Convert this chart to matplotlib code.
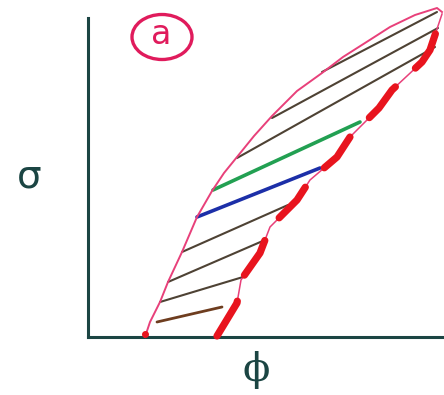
import numpy as np
import matplotlib
matplotlib.use("Agg")
import matplotlib.pyplot as plt
from matplotlib.patches import Ellipse

# sketch of the (phi, sigma) region: one unit = one pixel from the axis corner
left_phi = [57, 62, 72, 80, 94, 109, 124, 136, 149, 166, 184, 209, 234, 255, 277, 302, 327, 349, 354]
left_sig = [0, 15, 35, 55, 85, 120, 146, 164, 180, 201, 221, 246, 264, 280, 294, 310, 322, 329, 325]

right_phi = [129, 149, 153, 172, 182, 209, 222, 249, 262, 291, 304, 334, 342, 354]
right_sig = [1, 34, 57, 84, 110, 137, 157, 180, 200, 229, 247, 275, 287, 323]

# hatching strokes between the two curves: (phi0, sig0, phi1, sig1)
hatch = [
    (72, 35, 155, 60),
    (80, 55, 177, 97),
    (94, 85, 200, 132),
    (149, 179, 347, 290),
    (184, 219, 350, 309),
    (234, 265, 349, 325),
]
first_stroke = (69, 15, 134, 30)
blue_stroke = (109, 120, 232, 169)
green_stroke = (125, 147, 272, 215)

axis_col = "#1b4543"
pink = "#e8407a"
red = "#e8141e"
ink = "#4e4234"

fig = plt.figure(figsize=(4.44, 3.95), dpi=100)
ax = fig.add_axes([88 / 444, 58 / 395, 356 / 444, 337 / 395])
ax.set_xlim(0, 356)
ax.set_ylim(0, 337)
ax.patch.set_alpha(0)

for s in ["top", "right"]:
    ax.spines[s].set_visible(False)
for s in ["left", "bottom"]:
    ax.spines[s].set_color(axis_col)
    ax.spines[s].set_linewidth(2.2)
ax.spines["left"].set_bounds(0, 319)
ax.set_xticks([])
ax.set_yticks([])

# hatching
for p0, s0, p1, s1 in hatch:
    ax.plot([p0, p1], [s0, s1], color=ink, lw=1.5, solid_capstyle="round", zorder=2)
p0, s0, p1, s1 = first_stroke
ax.plot([p0, p1], [s0, s1], color="#6e3d1f", lw=2.0, solid_capstyle="round", zorder=2)
p0, s0, p1, s1 = blue_stroke
ax.plot([p0, p1], [s0, s1], color="#1c2fa8", lw=2.6, solid_capstyle="round", zorder=3)
p0, s0, p1, s1 = green_stroke
ax.plot([p0, p1], [s0, s1], color="#22a052", lw=2.6, solid_capstyle="round", zorder=3)

# boundaries
ax.plot(left_phi, left_sig, color=pink, lw=1.4, clip_on=False, zorder=4)
ax.plot(right_phi, right_sig, color=pink, lw=1.1, clip_on=False, zorder=4)
ax.plot(right_phi, right_sig, color=red, lw=5.2, dashes=(5.6, 3.8),
        dash_capstyle="round", clip_on=False, zorder=5)
ax.plot(left_phi[0], 3, "o", color=red, ms=4, clip_on=False, zorder=5)

# circled panel tag
ax.add_patch(Ellipse((74, 300), 60, 45, fill=False, ec="#e01b5c", lw=2.4, clip_on=False))
ax.text(73, 303, "a", color="#e01b5c", fontsize=24, ha="center", va="center")

ax.set_xlabel("ϕ", fontsize=29, color=axis_col, family=["DejaVu Serif"])
ax.xaxis.set_label_coords(168 / 356, -33 / 337)
ax.xaxis.label.set_va("center")
ax.set_ylabel("σ", fontsize=28, color=axis_col, rotation=0, family=["DejaVu Sans"])
ax.yaxis.set_label_coords(-59 / 356, 161 / 337)
ax.yaxis.label.set_va("center")
ax.yaxis.label.set_ha("center")

fig.savefig("out.png", dpi=100)
